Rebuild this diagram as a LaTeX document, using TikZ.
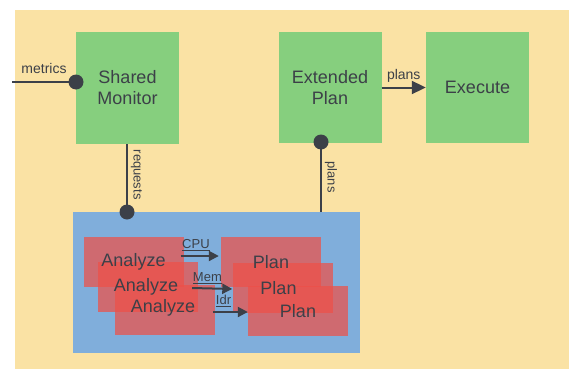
\documentclass[tikz,border=0pt]{standalone}
\usepackage{fontspec}
\setmainfont{Liberation Sans}
\usetikzlibrary{arrows.meta}
\definecolor{bgyellow}{HTML}{FAE2A4}
\definecolor{boxgreen}{HTML}{86CF7E}
\definecolor{boxblue}{HTML}{80AEDB}
\definecolor{boxred}{HTML}{EE5048}
\definecolor{ink}{HTML}{3C4048}
\tikzset{
  greenbox/.style={fill=boxgreen, draw=none, minimum width=103pt, minimum height=111pt, align=center, text=ink, font=\fontsize{18}{21}\selectfont, inner sep=0pt},
  redbox/.style={fill=boxred, fill opacity=0.72, draw=none, minimum width=100pt, minimum height=50pt, inner sep=0pt},
  boxtext/.style={text=ink, font=\fontsize{18}{21}\selectfont, inner sep=0pt},
  dotnode/.style={circle, fill=ink, draw=none, minimum size=15pt, inner sep=0pt},
  conn/.style={draw=ink, line width=2pt},
  bigarrow/.style={conn, -{Triangle[length=14pt,width=13pt]}},
  smallarrow/.style={conn, -{Triangle[length=10pt,width=10pt]}},
  lbl/.style={text=ink, font=\fontsize{14}{16}\selectfont, inner sep=2pt},
  slbl/.style={text=ink, font=\fontsize{13}{15}\selectfont, inner sep=1pt}
}
\begin{document}
\begin{tikzpicture}[x=1pt,y=-1pt]
\useasboundingbox (0,0) rectangle (569,369);
\fill[bgyellow] (15,10) rectangle (569,369);
% top row
\node[greenbox] (sm) at (127.5,88) {Shared\\Monitor};
\node[greenbox] (ep) at (330,87.5) {Extended\\Plan};
\node[greenbox] (ex) at (477.5,87.5) {Execute};
% blue group
\node[fill=boxblue, draw=none, minimum width=287pt, minimum height=141pt, inner sep=0pt] (grp) at (216.5,282.5) {};
% analyze / plan boxes
\node[redbox] (a1) at (133.5,262) {};
\node[redbox] (p1) at (271,262) {};
\node[redbox] (a2) at (148,287) {};
\node[redbox] (p2) at (282.5,288) {};
\node[redbox] (a3) at (165,310) {};
\node[redbox] (p3) at (298,311) {};
\node[boxtext] (a1t) at (a1.center) {Analyze};
\node[boxtext] (a2t) at ([xshift=-2pt]a2.center) {Analyze};
\node[boxtext] (a3t) at ([xshift=-2pt,yshift=2pt]a3.center) {Analyze};
\node[boxtext] (p1t) at (p1.center) {Plan};
\node[boxtext] (p2t) at ([xshift=-4pt]p2.center) {Plan};
\node[boxtext] (p3t) at (p3.center) {Plan};
% dots
\node[dotnode] (mdot) at (76,82) {};
\node[dotnode] (rdot) at (127,212) {};
\node[dotnode] (pdot) at (321,142) {};
\coordinate (min) at (12,82);
\coordinate (pend) at (321,212);
\coordinate (rstart) at (127,144);
% connectors
\draw[conn] (min) -- node[lbl, midway, above=5pt] {metrics} (mdot.center);
\draw[conn] (rstart) -- node[slbl, pos=0.45, rotate=-90, anchor=south, inner sep=3pt] {requests} (rdot.center);
\draw[conn] (pdot.center) -- node[slbl, pos=0.5, rotate=-90, anchor=south, inner sep=3pt] {plans} (pend);
\draw[bigarrow] (ep.east) -- node[lbl, midway, above=2pt] {plans} (ex.west);
\draw[smallarrow] ([xshift=-3pt,yshift=6pt]a1.east) -- node[slbl, pos=0.4, above=3pt] {\underline{CPU}} ([xshift=-2pt,yshift=6pt]p1.west);
\draw[smallarrow] ([xshift=-6pt,yshift=-1pt]a2.east) -- node[slbl, pos=0.38, above=3pt] {\underline{Mem}} ([yshift=-1pt]p2.west);
\draw[smallarrow] ([xshift=-2pt,yshift=-2pt]a3.east) -- node[slbl, pos=0.3, above=3pt] {\underline{Idr}} ([yshift=-1pt]p3.west);
\end{tikzpicture}
\end{document}
